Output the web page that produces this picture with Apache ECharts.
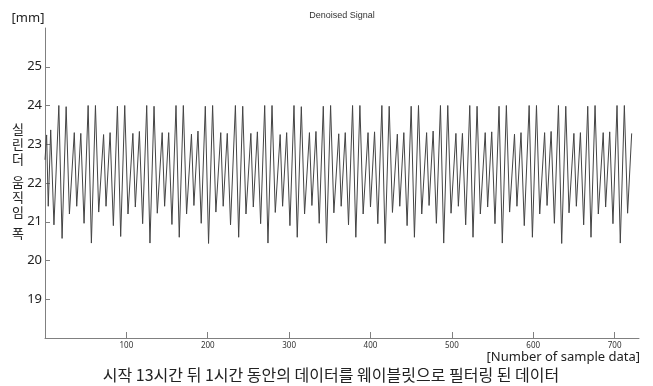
<!DOCTYPE html>
<html>
<head>
<meta charset="utf-8">
<script src="https://cdn.jsdelivr.net/npm/echarts@6/dist/echarts.min.js"></script>
<style>
  html, body { margin: 0; padding: 0; background: #fff; }
  #chart { width: 653px; height: 386px; }
</style>
</head>
<body>
<div id="chart"></div>
<script>
// Denoised signal: local peaks and troughs, one beat group per line
const sampleIdx = [
  0, 2, 4, 7, 11,
  17, 21, 26, 30, 36, 39, 44, 48,
  53, 57, 62, 66, 72, 75, 80, 84,
  89, 93, 98, 102, 108, 111, 116, 120,
  125, 129, 134, 138, 144, 147, 152, 156,
  161, 165, 170, 174, 180, 183, 188, 192,
  197, 201, 206, 210, 216, 219, 224, 228,
  234, 238, 243, 247, 253, 256, 261, 265,
  270, 274, 279, 283, 289, 292, 297, 301,
  306, 310, 315, 319, 325, 328, 333, 337,
  342, 346, 351, 355, 361, 364, 369, 373,
  378, 382, 387, 391, 397, 400, 405, 409,
  414, 418, 423, 427, 433, 436, 441, 445,
  450, 454, 459, 463, 469, 472, 477, 481,
  486, 490, 495, 499, 505, 508, 513, 517,
  522, 526, 531, 535, 541, 544, 549, 553,
  558, 562, 567, 571, 577, 580, 585, 589,
  595, 599, 604, 608, 614, 617, 622, 626,
  631, 635, 640, 644, 650, 653, 658, 662,
  667, 671, 676, 680, 686, 689, 694, 698,
  703, 707, 712, 716, 721
];
const displacement = [
  22.6, 23.24, 21.4, 23.37, 20.92,
  24.0, 20.57, 23.97, 21.2, 23.3, 21.4, 23.28, 20.96,
  24.0, 20.45, 24.0, 21.25, 23.25, 21.4, 23.3, 20.9,
  23.98, 20.62, 24.0, 21.2, 23.28, 21.38, 23.33, 20.95,
  24.0, 20.45, 23.98, 21.22, 23.3, 21.4, 23.3, 20.93,
  24.0, 20.6, 24.0, 21.2, 23.26, 21.42, 23.34, 20.96,
  23.98, 20.44, 24.0, 21.25, 23.3, 21.4, 23.28, 20.92,
  24.0, 20.6, 23.98, 21.2, 23.28, 21.38, 23.32, 20.95,
  24.0, 20.45, 24.0, 21.24, 23.25, 21.4, 23.3, 20.9,
  24.0, 20.6, 23.97, 21.2, 23.3, 21.42, 23.33, 20.96,
  23.98, 20.45, 24.0, 21.23, 23.27, 21.4, 23.3, 20.92,
  24.0, 20.6, 24.0, 21.2, 23.3, 21.38, 23.32, 20.95,
  24.0, 20.44, 23.98, 21.24, 23.26, 21.4, 23.3, 20.9,
  23.98, 20.6, 24.0, 21.2, 23.3, 21.42, 23.34, 20.96,
  24.0, 20.45, 24.0, 21.22, 23.28, 21.4, 23.28, 20.92,
  24.0, 20.6, 23.98, 21.2, 23.3, 21.38, 23.32, 20.95,
  23.98, 20.45, 24.0, 21.25, 23.26, 21.4, 23.3, 20.9,
  24.0, 20.6, 24.0, 21.2, 23.3, 21.42, 23.33, 20.96,
  24.0, 20.44, 23.98, 21.23, 23.28, 21.4, 23.3, 20.92,
  23.98, 20.6, 24.0, 21.2, 23.3, 21.38, 23.32, 20.95,
  24.0, 20.45, 24.0, 21.22, 23.28
];

// Axis ticks
const xTicks = [100, 200, 300, 400, 500, 600, 700];
const yTicks = [19, 20, 21, 22, 23, 24, 25];

// Texts
const chartTitle = 'Denoised Signal';
const yUnit = '[mm]';
const yName = '실린더 움직임 폭';
const xName = '[Number of sample data]';
const caption = '시작 13시간 뒤 1시간 동안의 데이터를 웨이블릿으로 필터링 된 데이터';

const KR_FONT = '"Noto Sans CJK KR", "Noto Sans", sans-serif';
const AXIS_COLOR = '#808080';

const seriesData = sampleIdx.map((s, i) => [s, displacement[i]]);

// vertical y name: one text block per word, characters stacked
const wordTops = [122, 175, 226];
const yNameGraphics = yName.split(' ').map((word, i) => ({
  type: 'text',
  x: 18,
  y: wordTops[i],
  style: {
    text: word.split('').join('\n'),
    font: '13px ' + KR_FONT,
    fill: '#222',
    align: 'center',
    verticalAlign: 'top',
    lineHeight: 15,
  },
}));

const chart = echarts.init(document.getElementById('chart'), null, { renderer: 'canvas' });

chart.setOption({
  animation: false,
  backgroundColor: '#fff',
  grid: {
    left: 45,
    right: 14,
    top: 28,
    bottom: 48,
    containLabel: false,
    outerBoundsMode: 'none',
  },
  xAxis: {
    type: 'value',
    min: 0,
    max: 730,
    splitLine: { show: false },
    axisLine: { show: true, onZero: false, lineStyle: { color: AXIS_COLOR, width: 1 } },
    axisTick: {
      show: true,
      inside: true,
      length: 6,
      customValues: xTicks,
      lineStyle: { color: AXIS_COLOR },
    },
    axisLabel: {
      customValues: xTicks,
      margin: 4,
      fontSize: 8,
      fontFamily: '"Noto Sans", sans-serif',
      color: '#333',
    },
  },
  yAxis: {
    type: 'value',
    min: 18,
    max: 26,
    splitLine: { show: false },
    axisLine: { show: true, onZero: false, lineStyle: { color: AXIS_COLOR, width: 1 } },
    axisTick: {
      show: true,
      inside: true,
      length: 5,
      customValues: yTicks,
      lineStyle: { color: AXIS_COLOR },
    },
    axisLabel: {
      customValues: yTicks,
      margin: 3,
      fontSize: 13,
      fontFamily: '"Noto Sans", sans-serif',
      color: '#222',
    },
  },
  graphic: [
    {
      type: 'text',
      x: 342,
      y: 16,
      style: {
        text: chartTitle,
        font: '9px "Liberation Sans", Arial, sans-serif',
        fill: '#333',
        align: 'center',
        verticalAlign: 'middle',
      },
    },
    {
      type: 'text',
      x: 28,
      y: 18,
      style: {
        text: yUnit,
        font: '13px "Noto Sans", sans-serif',
        fill: '#222',
        align: 'center',
        verticalAlign: 'middle',
      },
    },
    ...yNameGraphics,
    {
      type: 'text',
      x: 640,
      y: 357,
      style: {
        text: xName,
        font: '13px "Noto Sans", sans-serif',
        fill: '#222',
        align: 'right',
        verticalAlign: 'middle',
      },
    },
    {
      type: 'text',
      x: 331,
      y: 375,
      style: {
        text: caption,
        font: '16px ' + KR_FONT,
        fill: '#222',
        align: 'center',
        verticalAlign: 'middle',
      },
    },
  ],
  series: [
    {
      type: 'line',
      data: seriesData,
      showSymbol: false,
      symbol: 'none',
      lineStyle: { color: '#444', width: 1 },
      silent: true,
    },
  ],
});
</script>
</body>
</html>
